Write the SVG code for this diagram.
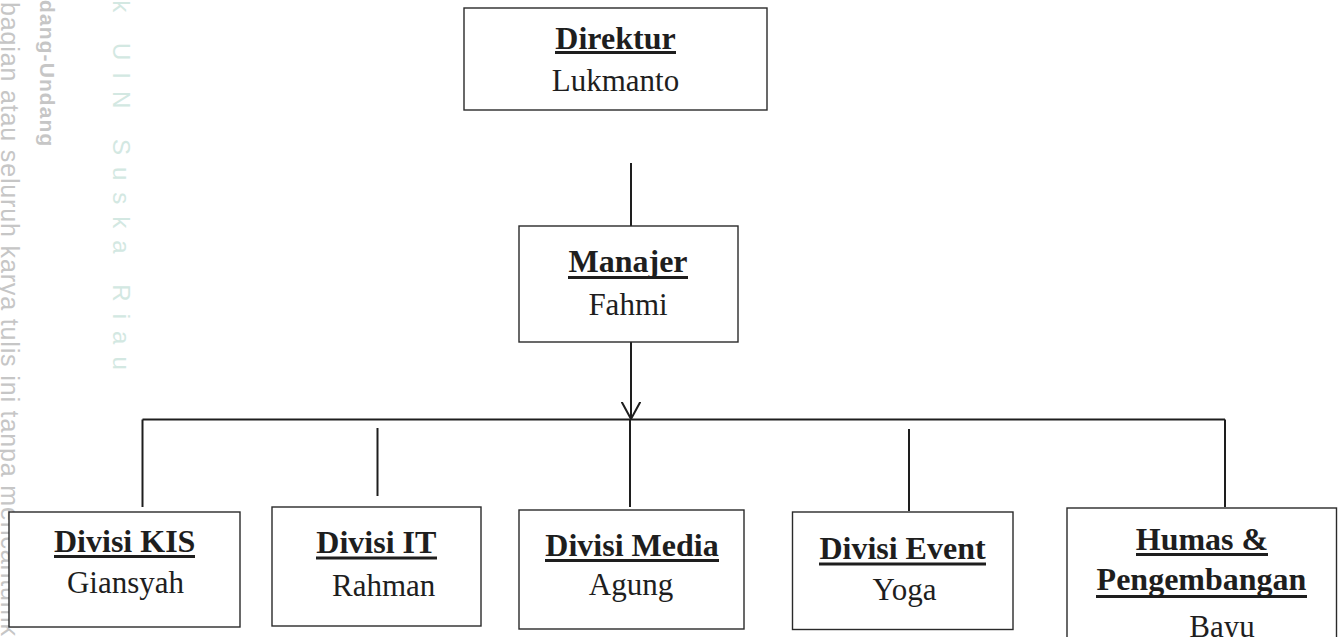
<svg xmlns="http://www.w3.org/2000/svg" width="1341" height="637" viewBox="0 0 1341 637">
  <style>
    .box { fill: #ffffff; stroke: #2a2a2a; stroke-width: 1.4; }
    .conn { stroke: #1e1e1e; stroke-width: 2; fill: none; }
    .title { font-family: "Liberation Serif", "Times New Roman", serif; font-weight: bold; font-size: 32px; fill: #1e1e1e; text-anchor: middle; }
    .name { font-family: "Liberation Serif", "Times New Roman", serif; font-size: 31px; fill: #1e1e1e; text-anchor: middle; }
    .ul { stroke: #1e1e1e; stroke-width: 3; }
    .wm { font-family: "Liberation Sans", Arial, sans-serif; fill: #c6c6c6; }
    .wm2 { font-family: "Liberation Sans", Arial, sans-serif; fill: #d3e8e2; }
  </style>
  <defs>
    <marker id="vhead" viewBox="0 0 18 20" refX="17.5" refY="10" markerWidth="18" markerHeight="20" markerUnits="userSpaceOnUse" orient="auto">
      <path d="M0,0.5 L17.5,10 L0,19.5" fill="none" stroke="#1e1e1e" stroke-width="2"/>
    </marker>
  </defs>
  <rect x="0" y="0" width="1341" height="637" fill="#ffffff"/>

  <g id="watermark">
    <text class="wm" font-size="25" letter-spacing="0.85" transform="translate(1,2) rotate(90)">bagian atau seluruh karya tulis ini tanpa mencantumk</text>
    <text class="wm" font-size="21" font-weight="bold" letter-spacing="1.1" transform="translate(39.5,0) rotate(90)">dang-Undang</text>
    <text class="wm2" font-size="24" letter-spacing="12" transform="translate(113,-17) rotate(90)">ik UIN Suska Riau</text>
  </g>

  <g id="connectors">
    <line class="conn" x1="631" y1="163" x2="631" y2="226"/>
    <line class="conn" x1="631" y1="342" x2="631" y2="419" marker-end="url(#vhead)"/>
    <line class="conn" x1="142.5" y1="419.5" x2="1225" y2="419.5"/>
    <line class="conn" x1="142.5" y1="419.5" x2="142.5" y2="507"/>
    <line class="conn" x1="377.5" y1="428" x2="377.5" y2="496"/>
    <line class="conn" x1="630" y1="419.5" x2="630" y2="507"/>
    <line class="conn" x1="909" y1="429" x2="909" y2="511"/>
    <line class="conn" x1="1225" y1="419.5" x2="1225" y2="507"/>
  </g>

  <g id="node-direktur">
    <rect class="box" x="464" y="8" width="303" height="102"/>
    <text class="title" x="615.5" y="49">Direktur</text>
    <line class="ul" x1="555" y1="52.5" x2="676" y2="52.5"/>
    <text class="name" x="615.5" y="91">Lukmanto</text>
  </g>

  <g id="node-manajer">
    <rect class="box" x="519" y="226" width="219" height="116"/>
    <text class="title" x="628" y="272">Manajer</text>
    <line class="ul" x1="568" y1="277.5" x2="688" y2="277.5"/>
    <text class="name" x="628" y="315">Fahmi</text>
  </g>

  <g id="node-kis">
    <rect class="box" x="9" y="512" width="231" height="115"/>
    <text class="title" x="124.7" y="552">Divisi KIS</text>
    <line class="ul" x1="54" y1="556.5" x2="195" y2="556.5"/>
    <text class="name" x="125.5" y="593">Giansyah</text>
  </g>

  <g id="node-it">
    <rect class="box" x="272" y="507" width="209" height="119"/>
    <text class="title" x="376.3" y="553">Divisi IT</text>
    <line class="ul" x1="316" y1="558" x2="437" y2="558"/>
    <text class="name" x="383.7" y="596">Rahman</text>
  </g>

  <g id="node-media">
    <rect class="box" x="519" y="510" width="225" height="119"/>
    <text class="title" x="632" y="556">Divisi Media</text>
    <line class="ul" x1="545" y1="560.5" x2="719" y2="560.5"/>
    <text class="name" x="631" y="595">Agung</text>
  </g>

  <g id="node-event">
    <rect class="box" x="792.5" y="512" width="220.5" height="117.5"/>
    <text class="title" x="902.5" y="559">Divisi Event</text>
    <line class="ul" x1="819" y1="564" x2="986" y2="564"/>
    <text class="name" x="904.5" y="600">Yoga</text>
  </g>

  <g id="node-humas">
    <rect class="box" x="1067" y="508" width="269.5" height="140"/>
    <text class="title" x="1202" y="550">Humas &amp;</text>
    <line class="ul" x1="1136" y1="554.5" x2="1268" y2="554.5"/>
    <text class="title" x="1201.5" y="590">Pengembangan</text>
    <line class="ul" x1="1096" y1="596.5" x2="1307" y2="596.5"/>
    <text class="name" x="1222" y="637">Bayu</text>
  </g>
</svg>
